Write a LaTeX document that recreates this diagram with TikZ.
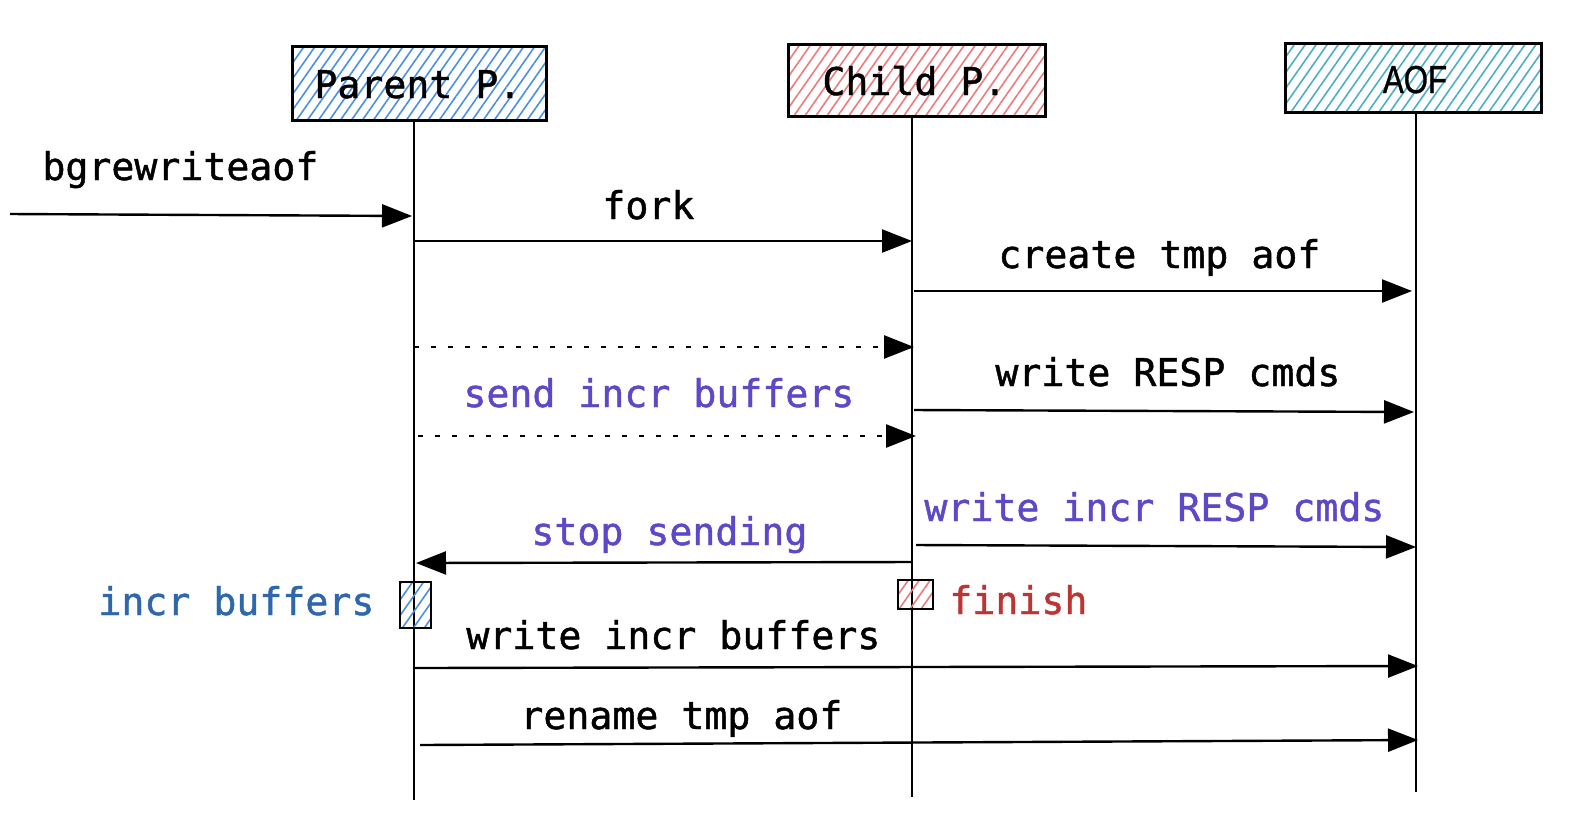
\documentclass[tikz,border=0pt]{standalone}
\usepackage{fontspec}
\newfontfamily\mono[FakeBold=1.2]{DejaVu Sans Mono}
\newfontfamily\aoffont[FakeBold=1]{Liberation Sans}
\usetikzlibrary{arrows.meta,patterns.meta}
\definecolor{phatch}{HTML}{4A90E2}
\definecolor{chatch}{HTML}{EE7B7B}
\definecolor{ahatch}{HTML}{4AAFC4}
\definecolor{purp}{HTML}{5B49C8}
\definecolor{blutxt}{HTML}{2F67AD}
\definecolor{redtxt}{HTML}{BC3535}
\begin{document}
\begin{tikzpicture}[x=0.5pt,y=-0.5pt,
  lbl/.style={font=\mono\fontsize{19.1}{23}\selectfont, inner sep=0pt, anchor=base west},
  hatch/.style={pattern={Lines[angle=55,distance=4.5pt,line width=0.8pt]}, pattern color=#1},
  boxline/.style={draw=black, line width=1.5pt},
  life/.style={line width=1.2pt},
  msg/.style={line width=1.2pt, -{Triangle[length=15pt,width=11.5pt]}},
  dmsg/.style={line width=1.3pt, dash pattern=on 2.5pt off 6pt, -{Triangle[length=15pt,width=11.5pt]}}]
\useasboundingbox (0,0) rectangle (1572,826);

% header boxes
\path[hatch=phatch] (292,46) rectangle (546,120);
\draw[boxline] (292,46) rectangle (546,120);
\path[hatch=chatch] (788,44) rectangle (1045,116);
\draw[boxline] (788,44) rectangle (1045,116);
\path[hatch=ahatch] (1285,43) rectangle (1541,112);
\draw[boxline] (1285,43) rectangle (1541,112);

\node[lbl] (parent) at (314,98) {Parent P.};
\node[lbl] (child) at (822,95) {Child P.};
\node[font=\aoffont\fontsize{19.5}{23}\selectfont, inner sep=0pt, anchor=base] (aof) at (1415,93) {\scalebox{0.8}[1]{AOF}};

% lifelines
\coordinate (ptop) at (414,120);
\coordinate (pend) at (414,800);
\coordinate (ctop) at (912,116);
\coordinate (cend) at (912,797);
\coordinate (atop) at (1416,112);
\coordinate (aend) at (1416,792);
\draw[life] (ptop) -- (pend);
\draw[life] (ctop) -- (cend);
\draw[life] (atop) -- (aend);

% activation boxes
\path[hatch=phatch] (400,582) rectangle (431,628);
\draw[line width=1.3pt] (400,582) rectangle (431,628);
\path[hatch=chatch] (898,580) rectangle (933,609);
\draw[line width=1.3pt] (898,580) rectangle (933,609);

% messages
\coordinate (b0) at (10,214);
\coordinate (b1) at (412,216);
\draw[msg] (b0) -- (b1);
\node[lbl] (tbg) at (42,180) {bgrewriteaof};

\coordinate (f0) at (414,241);
\coordinate (f1) at (912,241);
\draw[msg] (f0) -- (f1);
\node[lbl] (tfork) at (602,219) {fork};

\coordinate (c0) at (914,291);
\coordinate (c1) at (1412,291);
\draw[msg] (c0) -- (c1);
\node[lbl] (tcreate) at (998,268) {create tmp aof};

\coordinate (d0) at (414,347);
\coordinate (d1) at (914,347);
\draw[dmsg] (d0) -- (d1);
\coordinate (e0) at (418,436);
\coordinate (e1) at (916,436);
\draw[dmsg] (e0) -- (e1);
\node[lbl, text=purp] (tsend) at (463,407) {send incr buffers};

\coordinate (w0) at (914,410);
\coordinate (w1) at (1414,412);
\draw[msg] (w0) -- (w1);
\node[lbl] (twrite) at (995,386) {write RESP cmds};

\coordinate (i0) at (916,545);
\coordinate (i1) at (1416,547);
\draw[msg] (i0) -- (i1);
\node[lbl, text=purp] (twincr) at (924,521) {write incr RESP cmds};

\coordinate (s0) at (912,562);
\coordinate (s1) at (416,563);
\draw[msg] (s0) -- (s1);
\node[lbl, text=purp] (tstop) at (531,545) {stop sending};

\node[lbl, text=blutxt] (tincr) at (98,615) {incr buffers};
\node[lbl, text=redtxt] (tfin) at (949,614) {finish};

\coordinate (g0) at (414,668);
\coordinate (g1) at (1418,666);
\draw[msg] (g0) -- (g1);
\node[lbl] (twib) at (466,649) {write incr buffers};

\coordinate (r0) at (420,745);
\coordinate (r1) at (1418,740);
\draw[msg] (r0) -- (r1);
\node[lbl] (tren) at (520,729) {rename tmp aof};
\end{tikzpicture}
\end{document}
